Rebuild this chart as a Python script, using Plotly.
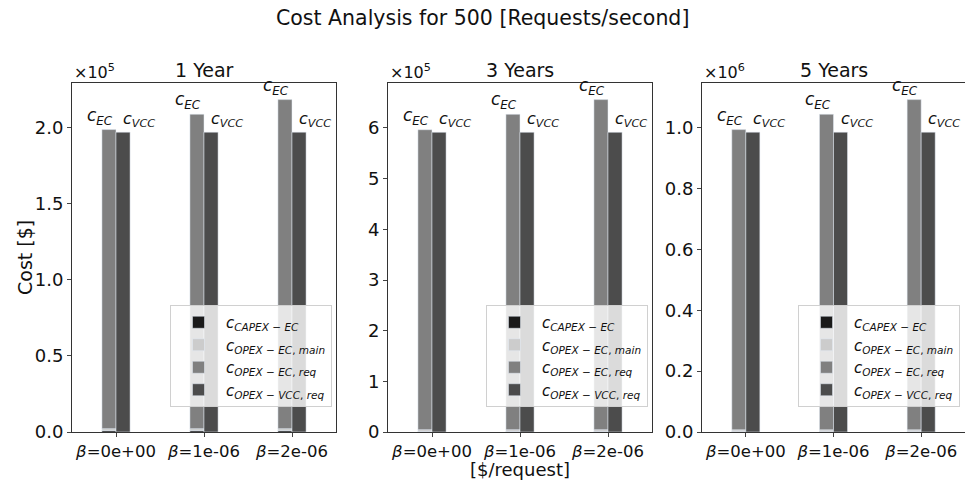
import plotly.graph_objects as go

# ---- data ----
beta_labels = ["0e+00", "1e-06", "2e-06"]
period_titles = ["1 Year", "3 Years", "5 Years"]
capex_ec = [1000, 1000, 1000]            # per period (same across beta)
opex_ec_main = [1200, 3600, 6000]        # per period
opex_ec_req = [
    [196700, 206800, 216400],
    [592000, 622400, 651400],
    [987400, 1038000, 1086000],
]
opex_vcc_req = [
    [197200, 197200, 197200],
    [591500, 591500, 591500],
    [986000, 986000, 986000],
]
y_tick_vals = [
    [0, 50000, 100000, 150000, 200000],
    [0, 100000, 200000, 300000, 400000, 500000, 600000],
    [0, 200000, 400000, 600000, 800000, 1000000],
]
y_tick_text = [
    ["0.0", "0.5", "1.0", "1.5", "2.0"],
    ["0", "1", "2", "3", "4", "5", "6"],
    ["0.0", "0.2", "0.4", "0.6", "0.8", "1.0"],
]
exponents = ["5", "5", "6"]

colors = {"capex": "#1a1a1a", "main": "#cccccc", "req": "#808080", "vcc": "#4c4c4c"}
names = [
    "<i>c</i><sub><i>CAPEX</i> − <i>EC</i></sub>",
    "<i>c</i><sub><i>OPEX</i> − <i>EC</i>, <i>main</i></sub>",
    "<i>c</i><sub><i>OPEX</i> − <i>EC</i>, <i>req</i></sub>",
    "<i>c</i><sub><i>OPEX</i> − <i>VCC</i>, <i>req</i></sub>",
]

W, H = 965, 482
panel_px = [(72, 336), (388, 652), (702, 966)]
top_px, bot_px = 83, 432
ydom = [(H - bot_px) / H, (H - top_px) / H]
FONT = "DejaVu Sans"
bw = 0.16

fig = go.Figure()
xcats = [f"<i>β</i>={b}" for b in beta_labels]
annotations = []

for p in range(3):
    sfx = "" if p == 0 else str(p + 1)
    xa, ya = "x" + sfx, "y" + sfx
    lg = "legend" if p == 0 else "legend" + str(p + 1)
    idx = list(range(3))
    cap = [capex_ec[p]] * 3
    mn = [opex_ec_main[p]] * 3
    rq = opex_ec_req[p]
    vc = opex_vcc_req[p]
    base_main = cap
    base_req = [cap[i] + mn[i] for i in idx]
    common = dict(xaxis=xa, yaxis=ya, legend=lg, width=bw)
    fig.add_trace(go.Bar(x=idx, y=cap, offset=-bw, marker_color=colors["capex"],
                         name=names[0], **common))
    fig.add_trace(go.Bar(x=idx, y=mn, base=base_main, offset=-bw, marker_color=colors["main"],
                         name=names[1], **common))
    fig.add_trace(go.Bar(x=idx, y=rq, base=base_req, offset=-bw, marker_color=colors["req"],
                         name=names[2], **common))
    fig.add_trace(go.Bar(x=idx, y=vc, offset=0, marker_color=colors["vcc"],
                         name=names[3], **common))

    ec_tot = [cap[i] + mn[i] + rq[i] for i in idx]
    ymax = max(max(ec_tot), max(vc)) * 1.05
    x0, x1 = panel_px[p]
    fig.layout["xaxis" + sfx] = dict(
        domain=[x0 / W, min(x1 / W, 1.0)], anchor=ya, range=[-0.5, 2.5],
        tickvals=idx, ticktext=xcats, ticks="outside", ticklen=4, automargin=False,
        showline=True, linecolor="#333", linewidth=1, mirror=True,
        showgrid=False, zeroline=False, tickfont=dict(size=16.5, color="#111"),
    )
    fig.layout["yaxis" + sfx] = dict(
        domain=ydom, anchor=xa, range=[0, ymax], automargin=False,
        tickvals=y_tick_vals[p], ticktext=y_tick_text[p], ticks="outside", ticklen=4,
        showline=True, linecolor="#333", linewidth=1, mirror=True,
        showgrid=False, zeroline=False, tickfont=dict(size=18, color="#111"),
    )
    fig.layout[lg] = dict(
        x=(x1 - 4) / W if p < 2 else 960 / W, xanchor="right",
        y=(H - 407) / H, yanchor="bottom",
        bgcolor="rgba(255,255,255,0.8)", bordercolor="#d0d0d0", borderwidth=1,
        font=dict(family=FONT, size=15, color="#111"), tracegroupgap=0,
        itemwidth=45,
    )
    # bar labels
    for i in idx:
        annotations.append(dict(x=i, y=ec_tot[i], xref=xa, yref=ya, text="<i>c</i><sub><i>EC</i></sub>",
                                showarrow=False, xanchor="right", yanchor="bottom", xshift=-1,
                                font=dict(family=FONT, size=17, color="#111")))
        annotations.append(dict(x=i, y=vc[i], xref=xa, yref=ya, text="<i>c</i><sub><i>VCC</i></sub>",
                                showarrow=False, xanchor="left", yanchor="bottom", xshift=5,
                                font=dict(family=FONT, size=16, color="#111")))
    # subplot title
    annotations.append(dict(x=((x0 + x1) / 2) / W,
                            y=(H - 70) / H, xref="paper", yref="paper",
                            text=period_titles[p], showarrow=False, xanchor="center", yanchor="middle",
                            font=dict(family=FONT, size=19, color="#111")))
    # exponent
    annotations.append(dict(x=x0 / W, y=(H - 84) / H, xref="paper", yref="paper",
                            text="×10<sup>" + exponents[p] + "</sup>", showarrow=False,
                            xanchor="left", yanchor="bottom",
                            font=dict(family=FONT, size=16, color="#111")))

annotations.append(dict(x=0.5, y=(H - 18) / H, xref="paper", yref="paper",
                        text="Cost Analysis for 500 [Requests/second]", showarrow=False,
                        xanchor="center", yanchor="middle", font=dict(family=FONT, size=20.5, color="#111")))
annotations.append(dict(x=520 / W, y=(H - 469) / H, xref="paper", yref="paper",
                        text="[$/request]", showarrow=False, xanchor="center", yanchor="middle",
                        font=dict(family=FONT, size=18, color="#111")))
annotations.append(dict(x=25 / W, y=(H - 258) / H, xref="paper", yref="paper",
                        text="Cost [$]", showarrow=False, textangle=-90, xanchor="center", yanchor="middle",
                        font=dict(family=FONT, size=19, color="#111")))

fig.update_layout(
    width=W, height=H, barmode="overlay",
    margin=dict(l=0, r=0, t=0, b=0, autoexpand=False),
    paper_bgcolor="white", plot_bgcolor="white",
    font=dict(family=FONT, color="#111"),
    annotations=annotations, showlegend=True,
)
fig.write_html("out.html", config={"displayModeBar": False},
               post_script="document.body.style.margin='0px';document.body.style.overflow='hidden';")
